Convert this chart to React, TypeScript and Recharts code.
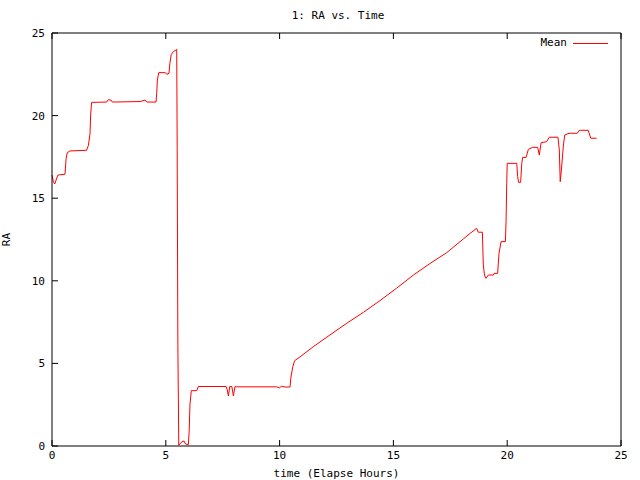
import React from 'react';
import { LineChart, Line, XAxis, YAxis } from 'recharts';

// elapsed hours and RA mean
const hours = [
  0, 0.06, 0.12, 0.18, 0.26, 0.57, 0.62, 0.67, 0.79, 1.52, 1.6, 1.67, 1.7, 1.74,
  2.4, 2.47, 2.59, 2.65, 3.87, 4.09, 4.16, 4.57, 4.6, 4.63, 4.69, 4.98, 5.04,
  5.14, 5.18, 5.24, 5.33, 5.48, 5.5, 5.53, 5.57, 5.7, 5.8, 5.87, 5.99, 6.03,
  6.06, 6.12, 6.36, 6.43, 7.65, 7.7, 7.75, 7.81, 7.9, 7.97, 8.04, 8.11, 9.87,
  9.99, 10.09, 10.24, 10.46, 10.49, 10.58, 10.66, 10.9, 11.48, 12.21, 12.95,
  13.68, 14.41, 15.14, 15.88, 16.61, 17.34, 18.07, 18.37, 18.66, 18.73, 18.91,
  18.95, 19.0, 19.07, 19.17, 19.4, 19.42, 19.58, 19.64, 19.73, 19.92, 19.95,
  19.98, 20.0, 20.42, 20.46, 20.5, 20.59, 20.64, 20.68, 20.83, 20.93, 21.12,
  21.34, 21.41, 21.49, 21.73, 21.85, 22.23, 22.29, 22.33, 22.38, 22.47, 22.53,
  22.72, 23.08, 23.17, 23.56, 23.67, 23.93,
];

const raMean = [
  16.4, 16.0, 15.86, 16.1, 16.4, 16.45, 17.4, 17.75, 17.86, 17.9, 18.2, 18.9,
  20.1, 20.8, 20.82, 20.96, 20.94, 20.82, 20.85, 20.94, 20.82, 20.82, 21.35,
  22.15, 22.6, 22.6, 22.5, 22.56, 23.17, 23.7, 23.87, 24.0, 18.0, 6.1, 0.05,
  0.25, 0.3, 0.12, 0.08, 0.97, 2.48, 3.35, 3.35, 3.6, 3.6, 3.4, 3.03, 3.6, 3.6,
  3.03, 3.6, 3.58, 3.58, 3.52, 3.62, 3.57, 3.57, 4.1, 4.8, 5.16, 5.4, 6.01,
  6.72, 7.43, 8.09, 8.8, 9.55, 10.35, 11.05, 11.7, 12.53, 12.87, 13.18, 12.94,
  12.94, 10.96, 10.35, 10.15, 10.35, 10.35, 10.45, 10.45, 11.66, 12.37, 12.37,
  13.58, 15.9, 17.11, 17.11, 16.3, 15.96, 15.96, 17.11, 17.47, 17.47, 17.96,
  18.08, 18.08, 17.61, 18.36, 18.42, 18.69, 18.69, 17.92, 16.0, 16.7, 18.22,
  18.83, 18.93, 18.93, 19.11, 19.11, 18.63, 18.63,
];

const xTicks = [0, 5, 10, 15, 20, 25];
const yTicks = [0, 5, 10, 15, 20, 25];

const FONT = '"DejaVu Sans Mono", monospace';
const tickStyle = { fontSize: 11, fill: '#000', fontFamily: FONT };
const axisLineStyle = { stroke: '#000', strokeWidth: 1 };
const tickLineStyle = { stroke: '#000', strokeWidth: 1 };

export default function App() {
  const data = hours.map((h, i) => ({ h, ra: raMean[i] }));

  return (
    <div style={{ position: 'absolute', left: 0, top: 0, width: 640, height: 480, background: '#fff', fontFamily: FONT }}>
      <div style={{ position: 'absolute', top: 9, left: 0, width: 676, textAlign: 'center', fontSize: 11, color: '#000' }}>
        1: RA vs. Time
      </div>
      <LineChart width={640} height={480} data={data} margin={{ top: 32, right: 18, bottom: 0, left: 0 }}>
        <XAxis
          dataKey="h"
          type="number"
          domain={[0, 25]}
          ticks={xTicks}
          height={34}
          tickSize={-6}
          tickMargin={11}
          tick={tickStyle}
          axisLine={axisLineStyle}
          tickLine={tickLineStyle}
          label={{ value: 'time (Elapse Hours)', position: 'insideBottom', offset: 3, fontSize: 11, fill: '#000', fontFamily: FONT }}
        />
        <XAxis
          xAxisId="top"
          orientation="top"
          dataKey="h"
          type="number"
          domain={[0, 25]}
          ticks={xTicks}
          height={1}
          tickSize={-6}
          tickFormatter={() => ''}
          axisLine={axisLineStyle}
          tickLine={tickLineStyle}
        />
        <YAxis
          type="number"
          domain={[0, 25]}
          ticks={yTicks}
          width={52}
          tickSize={-6}
          tickMargin={13}
          tick={tickStyle}
          axisLine={axisLineStyle}
          tickLine={tickLineStyle}
          label={{ value: 'RA', angle: -90, position: 'insideLeft', offset: 6, fontSize: 11, fill: '#000', fontFamily: FONT, style: { textAnchor: 'middle' } }}
        />
        <YAxis
          yAxisId="right"
          orientation="right"
          type="number"
          domain={[0, 25]}
          ticks={yTicks}
          width={1}
          tickSize={-6}
          tickFormatter={() => ''}
          axisLine={axisLineStyle}
          tickLine={tickLineStyle}
        />
        <Line
          type="linear"
          dataKey="ra"
          stroke="#ff0000"
          strokeWidth={1}
          dot={false}
          activeDot={false}
          isAnimationActive={false}
        />
      </LineChart>
      <div style={{ position: 'absolute', top: 36, left: 500, width: 67, textAlign: 'right', fontSize: 11, color: '#000' }}>
        Mean
      </div>
      <div style={{ position: 'absolute', top: 43, left: 573, width: 35, height: 1, background: '#ff0000' }} />
    </div>
  );
}
